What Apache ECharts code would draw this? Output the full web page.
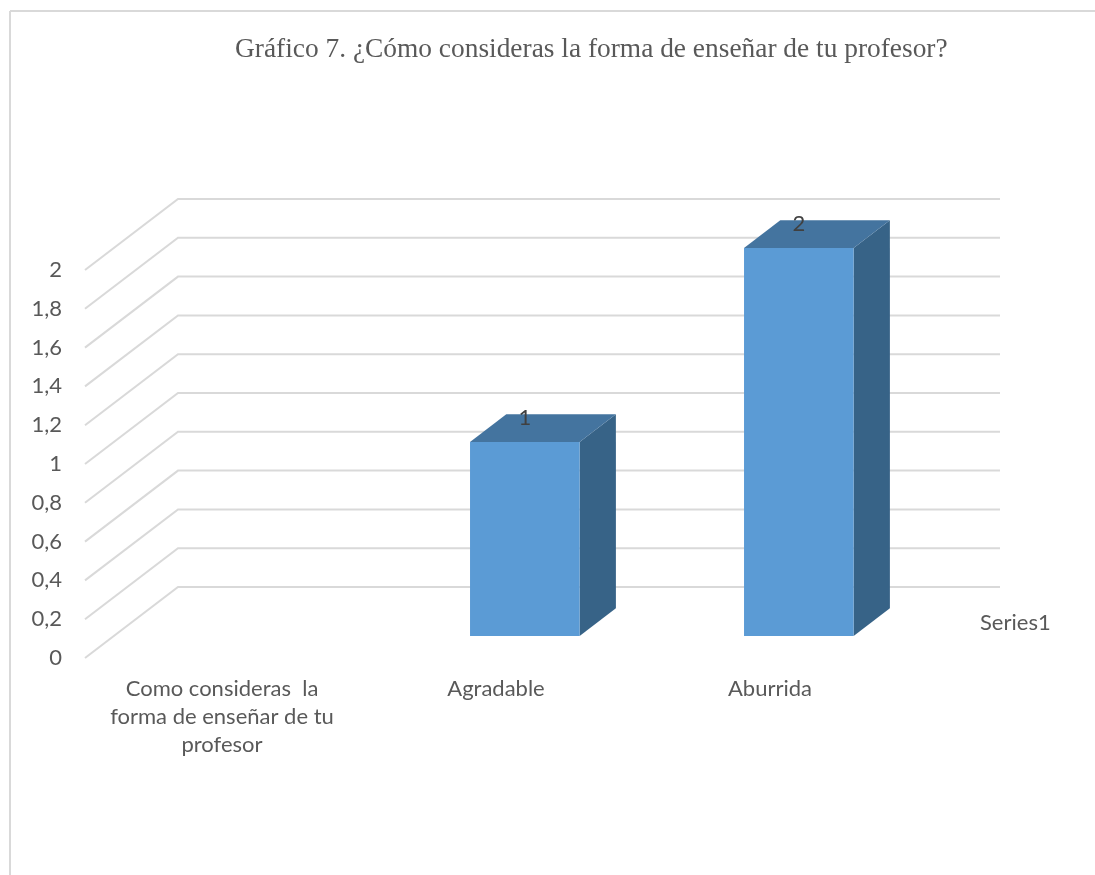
<!DOCTYPE html>
<html>
<head>
<meta charset="utf-8">
<script src="https://cdn.jsdelivr.net/npm/echarts@6/dist/echarts.min.js"></script>
<style>
  html, body { margin: 0; padding: 0; background: #fff; }
  #main { width: 1095px; height: 875px; }
</style>
</head>
<body>
<div id="main"></div>
<script>
var myChart = echarts.init(document.getElementById('main'));

// data
var categories = ['Como consideras  la\nforma de enseñar de tu\nprofesor', 'Agradable', 'Aburrida'];
var values = [null, 1, 2];
var seriesName = 'Series1';
var yTicks = [0, 0.2, 0.4, 0.6, 0.8, 1, 1.2, 1.4, 1.6, 1.8, 2];

// fake 3d: depth of the floor as a screen offset
var DX = 93, DY = -71;
var barFront = 0.31, barDepth = 0.39, barWidth = 0.4;

var textColor = '#595959';
var labelFont = 'Lato';

function wallItem(params, api) {
    var cs = params.coordSys;
    var p = api.coord([0, api.value(1)]);
    var y = p[1];
    return {
        type: 'polyline',
        shape: {
            points: [[cs.x, y], [cs.x + DX, y + DY], [cs.x + cs.width + DX, y + DY]]
        },
        style: { stroke: '#d9d9d9', lineWidth: 2, fill: null },
        silent: true
    };
}

function barItem(params, api) {
    var v = api.value(1);
    if (v == null || isNaN(v)) return;
    var idx = api.value(0);
    var base = api.coord([idx, 0]);
    var top = api.coord([idx, v]);
    var band = api.size([1, 0])[0];
    var w = band * barWidth;
    var x0 = base[0] + barFront * DX - w / 2;
    var yb = base[1] + barFront * DY;
    var yt = top[1] + barFront * DY;
    var bx = barDepth * DX, by = barDepth * DY;
    return {
        type: 'group',
        children: [
            {
                type: 'polygon',
                shape: { points: [[x0 + w, yb], [x0 + w + bx, yb + by], [x0 + w + bx, yt + by], [x0 + w, yt]] },
                style: { fill: '#376387' }
            },
            {
                type: 'polygon',
                shape: { points: [[x0, yt], [x0 + w, yt], [x0 + w + bx, yt + by], [x0 + bx, yt + by]] },
                style: { fill: '#44749f' }
            },
            {
                type: 'rect',
                shape: { x: x0, y: yt, width: w, height: yb - yt },
                style: { fill: '#5b9bd5' }
            },
            {
                type: 'text',
                x: x0 + w / 2,
                y: yt - 24,
                style: {
                    text: String(v),
                    fill: '#404040',
                    font: '22px ' + labelFont,
                    align: 'center',
                    verticalAlign: 'middle'
                }
            }
        ]
    };
}

var option = {
    backgroundColor: '#fff',
    animation: false,
    title: {
        text: 'Gráfico 7. ¿Cómo consideras la forma de enseñar de tu profesor?',
        left: 230,
        top: 31,
        textStyle: {
            fontFamily: 'Liberation Serif',
            fontSize: 27.4,
            fontWeight: 'normal',
            color: textColor
        }
    },
    grid: { left: 85, right: 188, top: 270, bottom: 217 },
    xAxis: {
        type: 'category',
        data: categories,
        axisLine: { show: false },
        axisTick: { show: false },
        axisLabel: {
            margin: 17,
            interval: 0,
            color: textColor,
            fontFamily: labelFont,
            fontSize: 22,
            lineHeight: 28,
            align: 'center'
        }
    },
    yAxis: {
        type: 'value',
        min: 0,
        max: 2,
        interval: 0.2,
        axisLine: { show: false },
        axisTick: { show: false },
        splitLine: { show: false },
        axisLabel: {
            margin: 23,
            color: textColor,
            fontFamily: labelFont,
            fontSize: 22,
            formatter: function (v) {
                return String(Math.round(v * 10) / 10).replace('.', ',');
            }
        }
    },
    graphic: [
        {
            type: 'line',
            shape: { x1: 10, y1: 11, x2: 1095, y2: 11 },
            style: { stroke: '#d9d9d9', lineWidth: 2 }
        },
        {
            type: 'line',
            shape: { x1: 10, y1: 11, x2: 10, y2: 875 },
            style: { stroke: '#d9d9d9', lineWidth: 2 }
        },
        {
            type: 'text',
            left: 980,
            top: 612,
            style: {
                text: seriesName,
                fill: textColor,
                font: '22px ' + labelFont
            }
        }
    ],
    series: [
        {
            name: 'walls',
            type: 'custom',
            renderItem: wallItem,
            data: yTicks.map(function (t) { return [0, t]; }),
            silent: true,
            z: 1
        },
        {
            name: seriesName,
            type: 'custom',
            renderItem: barItem,
            data: values.map(function (v, i) { return [i, v]; }),
            z: 2
        }
    ]
};
myChart.setOption(option);
</script>
</body>
</html>
